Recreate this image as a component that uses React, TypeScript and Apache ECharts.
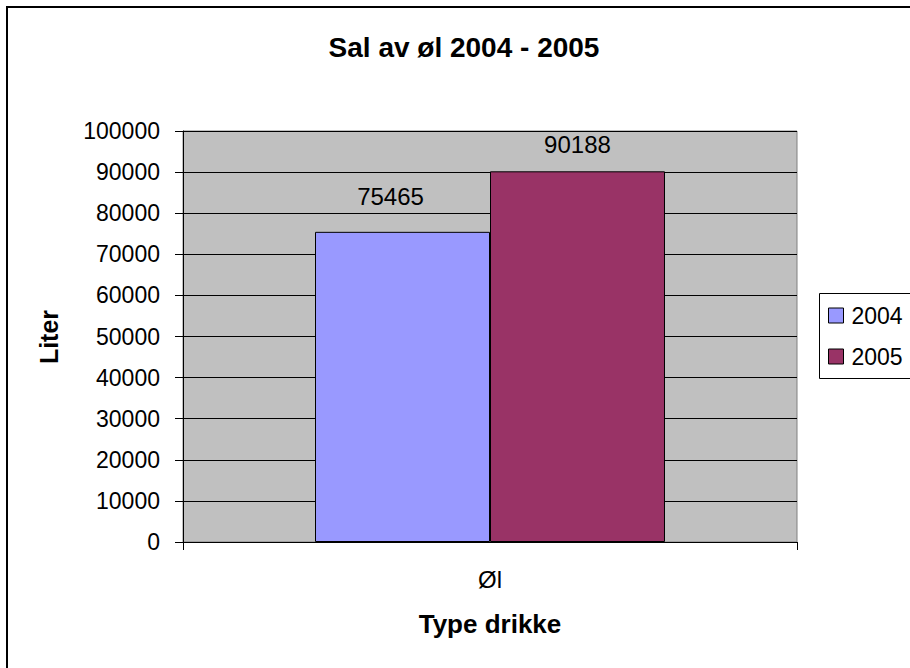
import React, { useEffect, useRef } from "react";
import * as echarts from "echarts";

const categories = ["Øl"];
const seriesNames = ["2004", "2005"];
const values2004 = [75465];
const values2005 = [90188];
const yTicks = [0, 10000, 20000, 30000, 40000, 50000, 60000, 70000, 80000, 90000, 100000];
const titleText = "Sal av øl 2004 - 2005";
const yAxisTitle = "Liter";
const xAxisTitle = "Type drikke";

const FONT = "'Liberation Sans', Arial, sans-serif";

export default function App() {
  const ref = useRef<HTMLDivElement>(null);
  useEffect(() => {
    document.body.style.margin = "0";
    document.body.style.overflow = "hidden";
    const chart = echarts.init(ref.current!, null, { renderer: "svg" });
    const option: any = {
      animation: false,
      backgroundColor: "#ffffff",
      textStyle: { fontFamily: FONT, color: "#000" },
      grid: {
        left: 183,
        top: 131,
        right: 113,
        bottom: 126,
        show: true,
        backgroundColor: "#c0c0c0",
        borderColor: "#808080",
        borderWidth: 1,
      },
      legend: {
        orient: "vertical",
        left: 819,
        top: 293,
        padding: [11, 10, 10, 9],
        itemGap: 18,
        itemWidth: 15,
        itemHeight: 15,
        icon: "rect",
        itemStyle: { borderColor: "#000", borderWidth: 1 },
        borderWidth: 0,
        textStyle: { fontFamily: FONT, fontSize: 23, color: "#000", padding: [0, 0, 0, 3] },
        data: seriesNames,
      },
      xAxis: {
        type: "category",
        data: categories,
        axisLine: { lineStyle: { color: "#000", width: 1 } },
        axisTick: { show: true, length: 8, lineStyle: { color: "#000" } },
        axisLabel: { fontFamily: FONT, fontSize: 24, color: "#000", margin: 25 },
      },
      yAxis: {
        type: "value",
        min: yTicks[0],
        max: yTicks[yTicks.length - 1],
        interval: yTicks[1] - yTicks[0],
        axisLine: { show: true, lineStyle: { color: "#000", width: 1 } },
        axisTick: { show: true, length: 8, lineStyle: { color: "#000" } },
        axisLabel: {
          fontFamily: FONT,
          fontSize: 23,
          color: "#000",
          margin: 23,
          formatter: (v: number) => String(v),
        },
        splitLine: { show: true, lineStyle: { color: "#000", width: 1 } },
      },
      series: [
        {
          name: seriesNames[0],
          type: "bar",
          barGap: "0%",
          barCategoryGap: "43%",
          itemStyle: { color: "#9999ff", borderColor: "#000", borderWidth: 1 },
          label: {
            show: true,
            position: "top",
            distance: 23,
            offset: [-12, 0],
            fontFamily: FONT,
            fontSize: 24,
            color: "#000",
          },
          data: values2004,
        },
        {
          name: seriesNames[1],
          type: "bar",
          itemStyle: { color: "#993366", borderColor: "#000", borderWidth: 1 },
          label: {
            show: true,
            position: "top",
            distance: 15,
            fontFamily: FONT,
            fontSize: 24,
            color: "#000",
          },
          data: values2005,
        },
      ],
      graphic: [
        {
          type: "line",
          shape: { x1: 7, y1: 6, x2: 7, y2: 668 },
          style: { stroke: "#000", lineWidth: 2 },
          silent: true,
        },
        {
          type: "line",
          shape: { x1: 6, y1: 7, x2: 910, y2: 7 },
          style: { stroke: "#000", lineWidth: 2 },
          silent: true,
        },
        {
          type: "polyline",
          shape: { points: [[910, 293.5], [819.5, 293.5], [819.5, 378.5], [910, 378.5]] },
          style: { fill: "none", stroke: "#000", lineWidth: 1 },
          silent: true,
        },
        {
          type: "text",
          x: 464,
          y: 47,
          style: {
            text: titleText,
            font: `bold 28px ${FONT}`,
            fill: "#000",
            align: "center",
            verticalAlign: "middle",
          },
        },
        {
          type: "text",
          x: 490,
          y: 624,
          style: {
            text: xAxisTitle,
            font: `bold 26px ${FONT}`,
            fill: "#000",
            align: "center",
            verticalAlign: "middle",
          },
        },
        {
          type: "text",
          x: 49,
          y: 337,
          rotation: Math.PI / 2,
          style: {
            text: yAxisTitle,
            font: `bold 25px ${FONT}`,
            fill: "#000",
            align: "center",
            verticalAlign: "middle",
          },
        },
      ],
    };
    chart.setOption(option);
    return () => chart.dispose();
  }, []);
  return <div ref={ref} style={{ width: 910, height: 668 }} />;
}
